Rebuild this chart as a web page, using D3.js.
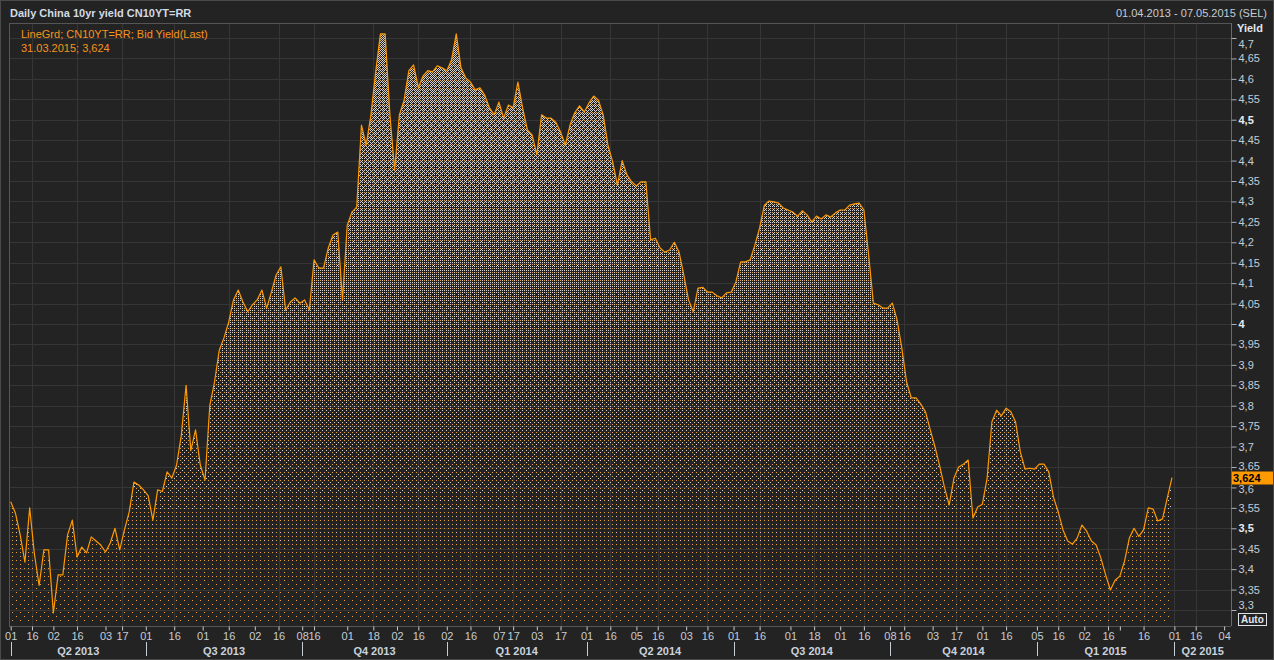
<!DOCTYPE html>
<html>
<head>
<meta charset="utf-8">
<script src="https://cdn.jsdelivr.net/npm/d3@7"></script>
<style>
html,body{margin:0;padding:0;background:#232323;}
svg{display:block;}
text{font-family:"Liberation Sans",Arial,sans-serif;}
</style>
</head>
<body>
<div id="chart"></div>
<script>
// bid yield, one reading every second trading session, 01.04.2013 .. 31.03.2015
var yields = [3.565,3.537,3.484,3.417,3.55,3.437,3.36,3.447,3.447,3.293,
  3.386,3.386,3.484,3.52,3.43,3.454,3.44,3.479,3.469,3.459,
  3.442,3.464,3.50,3.447,3.496,3.54,3.613,3.606,3.594,3.58,
  3.52,3.594,3.59,3.638,3.623,3.655,3.728,3.85,3.69,3.741,
  3.655,3.618,3.80,3.858,3.936,3.966,4.005,4.059,4.083,4.054,
  4.03,4.047,4.059,4.083,4.039,4.078,4.12,4.14,4.034,4.054,
  4.064,4.051,4.059,4.034,4.157,4.137,4.137,4.186,4.218,4.225,
  4.059,4.242,4.274,4.286,4.487,4.438,4.512,4.617,4.71,4.71,
  4.512,4.377,4.512,4.548,4.62,4.634,4.578,4.607,4.62,4.617,
  4.632,4.627,4.62,4.646,4.71,4.627,4.602,4.592,4.573,4.578,
  4.56,4.529,4.512,4.543,4.504,4.536,4.529,4.592,4.529,4.475,
  4.463,4.414,4.512,4.504,4.504,4.494,4.47,4.438,4.487,4.517,
  4.534,4.519,4.541,4.558,4.548,4.512,4.438,4.397,4.34,4.40,
  4.365,4.348,4.338,4.348,4.348,4.206,4.21,4.186,4.176,4.181,
  4.20,4.176,4.12,4.059,4.03,4.088,4.09,4.078,4.078,4.069,
  4.064,4.076,4.078,4.103,4.152,4.152,4.157,4.193,4.235,4.291,
  4.301,4.299,4.296,4.284,4.279,4.274,4.264,4.277,4.267,4.25,
  4.264,4.257,4.267,4.262,4.272,4.279,4.279,4.291,4.294,4.296,
  4.279,4.169,4.051,4.047,4.039,4.039,4.051,4.01,3.941,3.858,
  3.819,3.819,3.804,3.785,3.741,3.699,3.652,3.60,3.557,3.623,
  3.65,3.657,3.667,3.525,3.552,3.559,3.623,3.76,3.789,3.775,
  3.794,3.785,3.76,3.687,3.645,3.647,3.645,3.657,3.657,3.638,
  3.576,3.54,3.496,3.469,3.461,3.476,3.508,3.493,3.469,3.459,
  3.427,3.386,3.349,3.373,3.383,3.42,3.476,3.50,3.48,3.496,
  3.55,3.547,3.518,3.523,3.574,3.624];
var step = 2;

// x axis: trading session of each date tick
var tickSessions = [0,9,18,28,40,47, 57,69,81,92,103,113, 123,128,142,153,163,172,
  184,194,206,212,222,232, 243,253,264,273,285,294, 305,316,329,339,350,360,
  371,377,389,399,410,420, 433,442,453,463,468,478, 491,500,512];
var tickLabels = ["01","16","02","16","03","17", "01","16","01","16","02","16", "08","16","01","18","02","16",
  "02","16","07","17","03","17", "01","16","05","16","03","16", "01","16","01","18","01","16",
  "08","16","03","17","01","16", "05","16","02","16","","16", "01","16","04"];
var quarterSessions = [0,57,123,184,243,305,371,433,491];
var quarterLabels = ["Q2 2013","Q3 2013","Q4 2013","Q1 2014","Q2 2014","Q3 2014","Q4 2014","Q1 2015","Q2 2015"];
var gridSessions = [9,28,47,69,92,113,128,153,172,194,212,232,253,273,294,316,339,360,377,399,420,442,463,478,491,500];

// y axis ticks
var yTicks = [3.3,3.35,3.4,3.45,3.5,3.55,3.6,3.65,3.7,3.75,3.8,3.85,3.9,3.95,4,
  4.05,4.1,4.15,4.2,4.25,4.3,4.35,4.4,4.45,4.5,4.55,4.6,4.65,4.7];
var boldTicks = [3.5,4,4.5];

// settings for window
var w = 1274, h = 660;
var padL = 9, padR = 1231, padT = 23, padB = 626;
var lineColor = "#ff9900", dotColor = "#eea035", dotLight = "#d2d2d2", textColor = "#c5ccd4";

var svg = d3.select("#chart").append("svg").attr("width",w).attr("height",h);
svg.append("rect").attr("width",w).attr("height",h).attr("fill","#232323");
svg.append("rect").attr("x",0.5).attr("y",0.5).attr("width",w-1).attr("height",h-1).attr("fill","none").attr("stroke","#4a4a4a");

// scales
var x = d3.scaleLinear().domain([0,490]).range([10.7,1172]);
var y = d3.scaleLinear().domain([3.3,4.7]).range([610,38]);
var fmt = function(d) { return String(+d.toFixed(3)).replace(".",","); };

// grid
var grid = svg.append("g").attr("shape-rendering","crispEdges");
grid.selectAll(".hg").data(yTicks).enter().append("line").attr("class","hg")
  .attr("x1",padL).attr("x2",padR).attr("y1",function(d){ return Math.round(y(d))+0.5; }).attr("y2",function(d){ return Math.round(y(d))+0.5; })
  .attr("stroke","#363636");
grid.selectAll(".vg").data(gridSessions).enter().append("line").attr("class","vg")
  .attr("x1",function(d){ return Math.round(x(d))+0.5; }).attr("x2",function(d){ return Math.round(x(d))+0.5; })
  .attr("y1",padT).attr("y2",padB).attr("stroke","#363636");

// dithered gradient fill (ordered 8x8 bayer): sparse orange dots, grey dots added higher up
var bayer = [[0,32,8,40,2,34,10,42],[48,16,56,24,50,18,58,26],[12,44,4,36,14,46,6,38],[60,28,52,20,62,30,54,22],
  [3,35,11,43,1,33,9,41],[51,19,59,27,49,17,57,25],[15,47,7,39,13,45,5,37],[63,31,55,23,61,29,53,21]];
var defs = svg.append("defs");
var made = {};
function pattern(level) {
  var id = "dith" + level;
  if (!made[id]) {
    var p = defs.append("pattern").attr("id",id).attr("patternUnits","userSpaceOnUse").attr("width",8).attr("height",8);
    for (var r = 0; r < 8; r++) for (var c = 0; c < 8; c++)
      if (bayer[r][c] < level) p.append("rect").attr("x",c).attr("y",r).attr("width",1).attr("height",1).attr("fill",bayer[r][c] < 3 ? dotColor : dotLight);
    made[id] = true;
  }
  return "url(#" + id + ")";
}

var area = d3.area().x(function(d,i){ return x(i*step); }).y0(padB).y1(function(d){ return y(d); });
defs.append("clipPath").attr("id","areaClip").append("path").datum(yields).attr("d",area);

var fillG = svg.append("g").attr("clip-path","url(#areaClip)").attr("shape-rendering","crispEdges");
for (var by = padT; by < padB; by += 8) {
  var t = (by + 4 - padT) / (padB - padT);
  var dens = 0.03 + 0.5 * Math.pow(1 - t, 1.5);
  var lvl = Math.max(1, Math.round(dens * 64));
  fillG.append("rect").attr("x",padL).attr("y",by).attr("width",padR-padL).attr("height",8).attr("fill",pattern(lvl));
}

// line
var line = d3.line().x(function(d,i){ return x(i*step); }).y(function(d){ return y(d); });
svg.append("path").datum(yields).attr("d",line).attr("fill","none").attr("stroke",lineColor).attr("stroke-width",1.2).attr("stroke-linejoin","round");

// frame
svg.append("path").attr("d","M"+(padL+0.5)+","+padB+"V"+(padT+0.5)+"H"+(padR+0.5)).attr("fill","none").attr("stroke","#555").attr("shape-rendering","crispEdges");
svg.append("line").attr("x1",padL).attr("x2",padR).attr("y1",padB+0.5).attr("y2",padB+0.5).attr("stroke","#555").attr("shape-rendering","crispEdges");

// y axis
var yAxis = d3.axisRight(y).tickValues(yTicks).tickSize(5).tickPadding(2).tickFormat(fmt);
var ya = svg.append("g").attr("class","y axis").attr("transform","translate("+(padR+0.5)+",0)").call(yAxis);
ya.select(".domain").attr("stroke","#6a6a6a").attr("d","M0,"+padT+"V"+padB);
ya.selectAll(".tick line").attr("stroke","#aab2ba");
ya.selectAll(".tick text").style("font-size","11px")
  .style("font-weight",function(d){ return boldTicks.indexOf(d) >= 0 ? "bold" : "normal"; })
  .attr("fill",function(d){ return boldTicks.indexOf(d) >= 0 ? "#e8ecf0" : textColor; })
  .attr("dy",function(d){ return d === 4.7 ? "0.85em" : (d === 3.3 ? "-0.15em" : (d === 3.6 ? "0.45em" : (d === 3.65 ? "0.2em" : "0.32em"))); });

svg.append("text").attr("x",1237).attr("y",32).attr("fill","#e0e6ec").style("font-size","11px").style("font-weight","bold").text("Yield");

// last value marker
var last = yields[yields.length-1];
svg.append("rect").attr("x",1232).attr("y",Math.round(y(last))-6.5).attr("width",41).attr("height",13).attr("fill","#ff9a00");
svg.append("text").attr("x",1233).attr("y",Math.round(y(last))+4).attr("fill","#000").style("font-size","11px").style("font-weight","bold").text(fmt(last));

// auto box
svg.append("rect").attr("x",1238.5).attr("y",613.5).attr("width",28).attr("height",12).attr("fill","none").attr("stroke","#dde2e8");
svg.append("text").attr("x",1241).attr("y",623).attr("fill","#e0e6ec").style("font-size","10px").style("font-weight","bold").text("Auto");

// x axis
var xAxis = d3.axisBottom(x).tickValues(tickSessions).tickSize(4).tickPadding(2).tickFormat(function(d,i){ return tickLabels[i]; });
var xa = svg.append("g").attr("class","x axis").attr("transform","translate(0,"+(padB+0.5)+")").call(xAxis);
xa.select(".domain").remove();
xa.selectAll(".tick line").attr("stroke","#c5ccd4");
xa.selectAll(".tick text").attr("fill",textColor).style("font-size","11px");

// quarters
var qEnd = x.invert(padR);
svg.selectAll(".qsep").data(quarterSessions).enter().append("line").attr("class","qsep")
  .attr("x1",function(d){ return Math.round(x(d))+0.5; }).attr("x2",function(d){ return Math.round(x(d))+0.5; })
  .attr("y1",642).attr("y2",656).attr("stroke","#c5ccd4").attr("shape-rendering","crispEdges");
svg.selectAll(".qlab").data(quarterLabels).enter().append("text").attr("class","qlab")
  .attr("x",function(d,i){ var e = i+1 < quarterSessions.length ? quarterSessions[i+1] : qEnd; return (x(quarterSessions[i])+x(e))/2; })
  .attr("y",655).attr("text-anchor","middle").attr("fill","#c8d2dc").style("font-size","11px").style("font-weight","bold").text(function(d){ return d; });

// titles and legend
svg.append("text").attr("x",10).attr("y",17).attr("fill","#d3dae2").style("font-size","11px").style("font-weight","bold").text("Daily China 10yr yield CN10YT=RR");
svg.append("text").attr("x",1267).attr("y",17).attr("text-anchor","end").attr("fill",textColor).style("font-size","11px").text("01.04.2013 - 07.05.2015 (SEL)");
svg.append("text").attr("x",21).attr("y",38).attr("fill","#f7941d").style("font-size","11px").text("LineGrd; CN10YT=RR; Bid Yield(Last)");
svg.append("text").attr("x",21).attr("y",52).attr("fill","#f7941d").style("font-size","11px").text("31.03.2015; " + fmt(last));
</script>
</body>
</html>
